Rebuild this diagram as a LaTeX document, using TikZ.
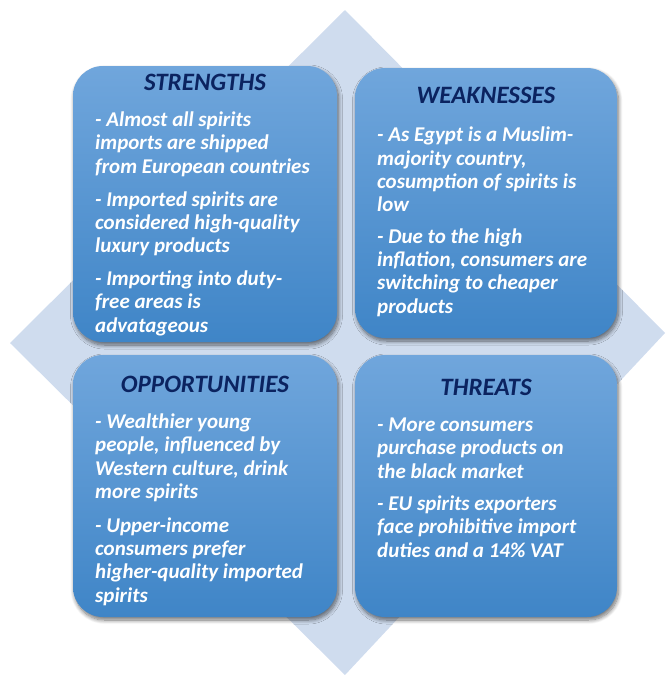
\documentclass[tikz,border=0pt]{standalone}
\usepackage{fontspec}
\setmainfont{Carlito}
\usepackage{xcolor}
\usetikzlibrary{shadows.blur}
\definecolor{diamondfill}{HTML}{CFDCEE}
\definecolor{quadtop}{HTML}{70A6DC}
\definecolor{quadbottom}{HTML}{3F85C7}
\definecolor{titlenavy}{HTML}{0B2360}

\begin{document}
\begin{tikzpicture}[
x=1pt, y=-1pt,
quad/.style={rectangle, rounded corners=30pt, top color=quadtop, bottom color=quadbottom, draw=none,
  blur shadow={shadow xshift=1.5pt, shadow yshift=-3pt, shadow blur radius=4pt, shadow blur steps=10, shadow opacity=55}},
quadtitle/.style={anchor=base, text=titlenavy, font=\fontsize{25}{28}\selectfont\bfseries\itshape, inner sep=0pt},
quadtext/.style={anchor=base west, align=left, text=white, inner sep=0pt,
  font=\fontsize{21}{23.3}\selectfont\bfseries\itshape}
]
\useasboundingbox (0,0) rectangle (666,675);
% background diamond
\fill[diamondfill] (345,10) -- (665,333) -- (345,675) -- (10,343) -- cycle;

% the four quadrants
\node[quad, minimum width=264pt, minimum height=276pt] (strengths) at (205,204) {};
\node[quad, minimum width=262pt, minimum height=270pt] (weaknesses) at (486,203) {};
\node[quad, minimum width=264pt, minimum height=262pt] (opportunities) at (205,486) {};
\node[quad, minimum width=262pt, minimum height=262pt] (threats) at (486,486) {};

% titles
\node[quadtitle] (strengthstitle) at (205,90) {STRENGTHS};
\node[quadtitle] (weaknessestitle) at (486,103) {WEAKNESSES};
\node[quadtitle] (opportunitiestitle) at (205,392) {OPPORTUNITIES};
\node[quadtitle] (threatstitle) at (486,395) {THREATS};

% texts (placed by the baseline of their last line)
\node[quadtext] (strengthstext) at (95,332) {- Almost all spirits\\imports are shipped\\from European countries\\[9.5pt]
- Imported spirits are\\considered high-quality\\luxury products\\[9.5pt]
- Importing into duty-\\free areas is\\advatageous};
\node[quadtext] (weaknessestext) at (377,313) {- As Egypt is a Muslim-\\majority country,\\cosumption of spirits is\\low\\[8pt]
- Due to the high\\inflation, consumers are\\switching to cheaper\\products};
\node[quadtext] (opportunitiestext) at (95,602) {- Wealthier young\\people, influenced by\\Western culture, drink\\more spirits\\[10.5pt]
- Upper-income\\consumers prefer\\higher-quality imported\\spirits};
\node[quadtext] (threatstext) at (377,557) {- More consumers\\purchase products on\\the black market\\[9pt]
- EU spirits exporters\\face prohibitive import\\duties and a 14\% VAT};
\end{tikzpicture}
\end{document}
